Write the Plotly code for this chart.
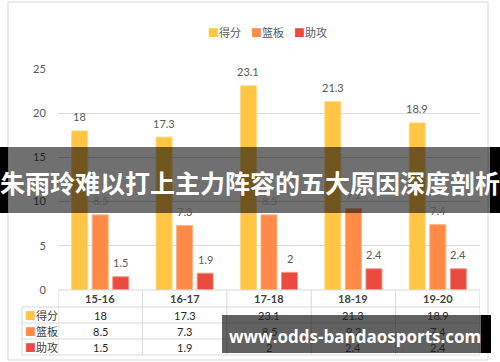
import plotly.graph_objects as go

# ---------------- data ----------------
categories = ["15-16", "16-17", "17-18", "18-19", "19-20"]
series_names = ["得分", "篮板", "助攻"]
points = [18, 17.3, 23.1, 21.3, 18.9]
rebounds = [8.5, 7.3, 8.5, 9.2, 7.4]
assists = [1.5, 1.9, 2, 2.4, 2.4]
y_ticks = [0, 5, 10, 15, 20, 25]
title_text = "朱雨玲难以打上主力阵容的五大原因深度剖析"
watermark_text = "www.odds-bandaosports.com"

series_values = [points, rebounds, assists]
colors = ["#FFC544", "#FF8B46", "#EA4A3F"]
edge_colors = ["#FFDA85", "#F4B48A", "#F09A86"]

# ---------------- geometry helpers ----------------
W, H = 500, 362
L, R, T, B = 58, 20, 69, 72
PW = W - L - R
PH = H - T - B
BARGAP, GROUPGAP = 0.27, 0.22
slot = (1 - BARGAP) / 3


def px_x(px):
    return (px - L) / PW


def px_y(py):
    return (H - B - py) / PH


CJK = "Noto Sans CJK SC"
NUM = "Lato, Noto Sans CJK SC"
GRID = "#d9d9d9"

fig = go.Figure()
for name, vals, c, ec in zip(series_names, series_values, colors, edge_colors):
    fig.add_trace(go.Bar(
        x=categories, y=vals, name=name,
        marker=dict(color=c, line=dict(color=ec, width=1)),
        showlegend=False, hoverinfo="skip",
    ))

shapes = []
annotations = []


def ann(**kw):
    d = dict(showarrow=False, xanchor="center", yanchor="middle")
    d.update(kw)
    annotations.append(d)


# outer frame
shapes.append(dict(type="rect", xref="paper", yref="paper",
                   x0=px_x(8), x1=px_x(488), y0=px_y(360), y1=px_y(2),
                   line=dict(color=GRID, width=1), layer="below"))

# data labels
for k, vals in enumerate(series_values):
    for i, v in enumerate(vals):
        ann(x=i + (k - 1) * slot, y=v, xref="x", yref="y",
            text=f"{v:g}", yshift=14,
            font=dict(family=NUM, size=11, color="#595959"))

# manual legend (top)
for k, (name, c) in enumerate(zip(series_names, colors)):
    ann(x=px_x(206 + 43 * k), y=px_y(32), xref="paper", yref="paper",
        xanchor="left",
        text=f'<span style="color:{c}">■</span>{name}',
        font=dict(family=CJK, size=11, color="#595959"))

# data table
row_y = [290, 307, 323, 339, 355]
shapes.append(dict(type="line", xref="x", yref="paper", x0=-0.5, x1=len(categories) - 0.5,
                   y0=px_y(row_y[0]), y1=px_y(row_y[0]), line=dict(color=GRID, width=1)))
for ry in row_y[1:]:
    shapes.append(dict(type="line", xref="paper", yref="paper", x0=px_x(22), x1=1,
                       y0=px_y(ry), y1=px_y(ry), line=dict(color=GRID, width=1)))
for i in range(len(categories) + 1):
    shapes.append(dict(type="line", xref="x", yref="paper", x0=i - 0.5, x1=i - 0.5,
                       y0=px_y(row_y[0]), y1=px_y(row_y[-1]), line=dict(color=GRID, width=1)))
shapes.append(dict(type="line", xref="paper", yref="paper", x0=px_x(22), x1=px_x(22),
                   y0=px_y(row_y[1]), y1=px_y(row_y[-1]), line=dict(color=GRID, width=1)))

for i, cat in enumerate(categories):
    ann(x=i, y=px_y((row_y[0] + row_y[1]) / 2), xref="x", yref="paper",
        text=f"<b>{cat}</b>",
        font=dict(family=NUM, size=11, color="#404040"))
for k, (name, c, vals) in enumerate(zip(series_names, colors, series_values)):
    yc = px_y((row_y[k + 1] + row_y[k + 2]) / 2)
    ann(x=px_x(23), y=yc, xref="paper", yref="paper", xanchor="left",
        text=f'<span style="color:{c}">■</span>{name}',
        font=dict(family=CJK, size=11, color="#404040"))
    for i, v in enumerate(vals):
        ann(x=i, y=yc, xref="x", yref="paper", text=f"{v:g}",
            font=dict(family=NUM, size=11, color="#262626"))

# title banner overlay
shapes.append(dict(type="rect", xref="paper", yref="paper",
                   x0=px_x(8), x1=px_x(490), y0=px_y(213), y1=px_y(147),
                   fillcolor="rgba(0,0,0,0.56)", line=dict(width=0), layer="above"))
shapes.append(dict(type="rect", xref="paper", yref="paper",
                   x0=px_x(0), x1=px_x(8), y0=px_y(213), y1=px_y(147),
                   fillcolor="#000000", line=dict(width=0), layer="above"))
shapes.append(dict(type="rect", xref="paper", yref="paper",
                   x0=px_x(490), x1=px_x(500), y0=px_y(213), y1=px_y(147),
                   fillcolor="#000000", line=dict(width=0), layer="above"))
ann(x=px_x(250), y=px_y(182), xref="paper", yref="paper",
    text=f"<b>{title_text}</b>",
    font=dict(family=CJK, size=25, color="#ffffff"))

# watermark
shapes.append(dict(type="rect", xref="paper", yref="paper",
                   x0=px_x(222), x1=px_x(481), y0=px_y(353), y1=px_y(315),
                   fillcolor="rgba(0,0,0,0.62)", line=dict(width=0), layer="above"))
shapes.append(dict(type="rect", xref="paper", yref="paper",
                   x0=px_x(481), x1=px_x(491), y0=px_y(353), y1=px_y(315),
                   fillcolor="#000000", line=dict(width=0), layer="above"))
ann(x=px_x(355), y=px_y(336), xref="paper", yref="paper",
    text=f"<b>{watermark_text}</b>",
    font=dict(family="Open Sans", size=17, color="#ffffff"))

fig.update_layout(
    width=W, height=H, margin=dict(l=L, r=R, t=T, b=B, pad=0),
    paper_bgcolor="white", plot_bgcolor="white",
    barmode="group", bargap=BARGAP, bargroupgap=GROUPGAP,
    showlegend=False,
    xaxis=dict(showticklabels=False, showgrid=False, zeroline=False, showline=False,
               range=[-0.5, len(categories) - 0.5]),
    yaxis=dict(range=[0, 25], tickvals=y_ticks, showgrid=True, gridcolor=GRID, gridwidth=1,
               zeroline=False, showline=False, ticks="outside", ticklen=9,
               tickcolor="rgba(0,0,0,0)",
               tickfont=dict(family=NUM, size=11, color="#595959")),
    shapes=shapes, annotations=annotations,
)

fig.write_html("out.html", config={"displayModeBar": False})
